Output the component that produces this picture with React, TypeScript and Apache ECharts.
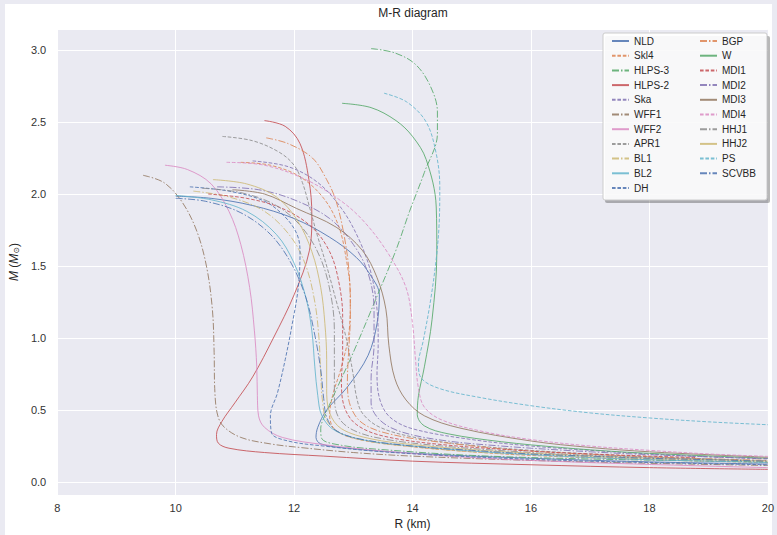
import React, { useEffect, useRef } from 'react';
import * as echarts from 'echarts';

// Series names (legend order) and seaborn "deep" palette
const NAMES = ['NLD', 'Skl4', 'HLPS-3', 'HLPS-2', 'Ska', 'WFF1', 'WFF2', 'APR1', 'BL1', 'BL2', 'DH',
  'BGP', 'W', 'MDI1', 'MDI2', 'MDI3', 'MDI4', 'HHJ1', 'HHJ2', 'PS', 'SCVBB'];
const LEGEND_COL1 = NAMES.slice(0, 11);
const LEGEND_COL2 = NAMES.slice(11);
const PALETTE = ['#4C72B0', '#DD8452', '#55A868', '#C44E52', '#8172B3', '#937860', '#DA8BC3', '#8C8C8C', '#CCB974', '#64B5CD'];
const X_TICKS = [8, 10, 12, 14, 16, 18, 20];

// [R (km), M (Msun)]
const NLD = [[10.0,1.985],[10.6,1.97],[11.3,1.92],[12.0,1.83],[12.6,1.7],[13.05,1.56],[13.3,1.43],[13.44,1.3],[13.4,1.1],[13.25,0.88],[12.9,0.66],[12.55,0.5],[12.4,0.38],[12.37,0.31],[12.45,0.265],[12.9,0.235],[14,0.2],[16,0.165],[18,0.14],[20,0.125]];
const SKL4 = [[11.1,2.22],[11.6,2.2],[12.1,2.12],[12.5,1.97],[12.75,1.78],[12.88,1.55],[12.95,1.3],[12.93,1.05],[12.8,0.8],[12.65,0.6],[12.6,0.46],[12.7,0.36],[13.1,0.295],[14,0.245],[15,0.21],[16,0.185],[18,0.155],[20,0.135]];
const HLPS3 = [[13.3,3.01],[13.7,2.98],[14.05,2.9],[14.3,2.75],[14.42,2.57],[14.42,2.42],[14.2,2.15],[13.95,1.88],[13.72,1.61],[13.39,1.28],[13.0,0.9],[12.7,0.63],[12.54,0.48],[12.45,0.37],[12.47,0.3],[12.8,0.255],[13.5,0.225],[15,0.185],[17,0.16],[20,0.14]];
const HLPS2 = [[11.5,2.51],[11.85,2.47],[12.1,2.35],[12.25,2.1],[12.3,1.85],[12.26,1.61],[12.0,1.3],[11.65,1.0],[11.3,0.73],[11.0,0.55],[10.78,0.42],[10.69,0.33],[10.72,0.27],[10.9,0.235],[11.5,0.205],[12.5,0.18],[14,0.145],[16,0.12],[18,0.1],[20,0.088]];
const SKA = [[11.3,2.23],[11.9,2.19],[12.4,2.08],[12.8,1.9],[13.1,1.68],[13.3,1.45],[13.4,1.2],[13.42,0.95],[13.4,0.75],[13.45,0.57],[13.62,0.45],[14.0,0.37],[15,0.295],[16,0.25],[17,0.22],[18,0.195],[19,0.175],[20,0.16]];
const WFF1 = [[9.45,2.13],[9.8,2.08],[10.1,1.95],[10.35,1.75],[10.52,1.5],[10.62,1.2],[10.65,0.9],[10.66,0.65],[10.7,0.48],[10.8,0.39],[11.1,0.31],[11.6,0.265],[12.1,0.24],[13,0.205],[14,0.18],[16,0.15],[18,0.13],[20,0.115]];
const WFF2 = [[9.82,2.2],[10.2,2.17],[10.6,2.07],[10.9,1.88],[11.1,1.65],[11.25,1.35],[11.33,1.05],[11.37,0.8],[11.38,0.6],[11.4,0.46],[11.5,0.38],[11.8,0.31],[12.5,0.26],[13.5,0.215],[15,0.17],[17,0.135],[20,0.1]];
const APR1 = [[10.79,2.4],[11.3,2.37],[11.75,2.29],[12.0,2.2],[12.14,2.08],[12.28,1.88],[12.38,1.73],[12.55,1.5],[12.71,1.26],[12.85,1.05],[12.93,0.9],[13.0,0.74],[13.05,0.6],[13.15,0.48],[13.45,0.38],[14.1,0.305],[15,0.255],[16,0.22],[17,0.195],[18,0.175],[19,0.16],[20,0.148]];
const BL1 = [[10.3,2.02],[10.9,1.98],[11.5,1.88],[11.95,1.7],[12.2,1.5],[12.35,1.25],[12.42,1.0],[12.45,0.75],[12.48,0.56],[12.55,0.43],[12.8,0.335],[13.3,0.28],[14,0.245],[15,0.21],[16,0.19],[17,0.175],[18,0.16],[18.8,0.152]];
const BL2 = [[10.0,1.99],[10.6,1.96],[11.2,1.88],[11.7,1.72],[12.0,1.52],[12.2,1.28],[12.3,1.05],[12.35,0.8],[12.4,0.6],[12.47,0.46],[12.68,0.36],[13.2,0.29],[14,0.25],[15,0.215],[16,0.19],[17,0.17],[18,0.155],[19,0.145],[20,0.135]];
const DH = [[10.24,2.05],[10.9,2.02],[11.5,1.95],[11.85,1.84],[12.05,1.72],[12.1,1.6],[12.07,1.35],[11.97,1.1],[11.85,0.85],[11.72,0.62],[11.6,0.46],[11.62,0.34],[11.9,0.285],[12.5,0.25],[13.5,0.21],[15,0.175],[17,0.145],[20,0.12]];
const BGP = [[11.53,2.39],[11.9,2.35],[12.31,2.25],[12.55,2.1],[12.71,1.95],[12.85,1.7],[12.93,1.45],[12.95,1.15],[12.92,0.9],[12.9,0.7],[12.95,0.53],[13.15,0.41],[13.6,0.335],[14.5,0.275],[16,0.215],[18,0.175],[20,0.15]];
const W = [[12.81,2.63],[13.3,2.6],[13.72,2.51],[14.0,2.4],[14.23,2.24],[14.4,1.91],[14.41,1.59],[14.33,1.13],[14.2,0.8],[14.1,0.6],[14.08,0.47],[14.2,0.39],[14.6,0.335],[15.5,0.28],[16.5,0.24],[17.5,0.21],[18.5,0.19],[20,0.165]];
const MDI1 = [[10.55,2.0],[11.2,1.97],[11.8,1.9],[12.3,1.77],[12.6,1.6],[12.75,1.4],[12.82,1.15],[12.82,0.9],[12.8,0.7],[12.85,0.52],[13.05,0.4],[13.5,0.32],[14.5,0.26],[16,0.215],[17,0.195],[18,0.18],[18.8,0.17]];
const MDI2 = [[10.7,2.05],[11.4,2.03],[12.0,1.96],[12.6,1.83],[13.0,1.65],[13.25,1.45],[13.35,1.2],[13.35,0.95],[13.3,0.72],[13.3,0.55],[13.45,0.43],[13.8,0.35],[14.5,0.29],[15.5,0.25],[17,0.21],[18,0.19],[19,0.175],[20,0.163]];
const MDI3 = [[10.96,2.03],[11.5,2.0],[12.04,1.9],[12.71,1.77],[13.15,1.61],[13.4,1.42],[13.55,1.2],[13.6,0.95],[13.7,0.72],[13.89,0.57],[14.2,0.46],[14.8,0.375],[16,0.285],[17,0.24],[18,0.21],[19,0.19],[20,0.172]];
const MDI4 = [[10.86,2.22],[11.5,2.2],[12.2,2.1],[12.8,1.95],[13.2,1.8],[13.6,1.58],[13.89,1.35],[14.0,1.1],[14.05,0.85],[14.1,0.65],[14.2,0.52],[14.5,0.43],[15.2,0.35],[16,0.295],[17,0.25],[18,0.22],[19,0.195],[20,0.178]];
const HHJ1 = [[10.45,2.04],[11.1,2.01],[11.7,1.92],[12.15,1.76],[12.45,1.55],[12.62,1.3],[12.68,1.05],[12.68,0.8],[12.68,0.6],[12.75,0.45],[13.0,0.36],[13.5,0.3],[14.5,0.25],[16,0.205],[17,0.185],[18,0.17],[19,0.158],[19.5,0.152]];
const HHJ2 = [[10.63,2.1],[11.2,2.07],[11.7,1.98],[12.05,1.82],[12.3,1.6],[12.45,1.35],[12.52,1.1],[12.55,0.85],[12.55,0.65],[12.6,0.48],[12.8,0.37],[13.3,0.3],[14,0.26],[15,0.225],[16,0.2],[17,0.18],[18,0.165],[19,0.155],[20,0.145]];
const PS = [[13.52,2.7],[13.9,2.64],[14.23,2.5],[14.4,2.28],[14.46,2.05],[14.45,1.8],[14.4,1.55],[14.3,1.25],[14.18,0.98],[14.1,0.82],[14.15,0.72],[14.45,0.65],[15.1,0.59],[16,0.53],[17,0.48],[18,0.445],[19,0.418],[20,0.398]];
const SCVBB = [[10.0,1.97],[10.5,1.95],[11.1,1.87],[11.6,1.72],[11.95,1.52],[12.2,1.28],[12.35,1.02],[12.45,0.78],[12.5,0.58],[12.55,0.45],[12.7,0.36],[13.1,0.3],[14,0.25],[15,0.22],[16,0.195],[17,0.18],[18,0.165],[19,0.155],[20,0.145]];

const SERIES_DATA = [NLD, SKL4, HLPS3, HLPS2, SKA, WFF1, WFF2, APR1, BL1, BL2, DH,
  BGP, W, MDI1, MDI2, MDI3, MDI4, HHJ1, HHJ2, PS, SCVBB];

const FONT = '"Liberation Sans", Arial, sans-serif';
const DASHES: any[] = ['solid', [3.6, 1.8], [7, 2, 1.5, 2]];

export default function App() {
  const ref = useRef<HTMLDivElement>(null);
  useEffect(() => {
    const chart = echarts.init(ref.current as HTMLDivElement, undefined, { renderer: 'svg' });
    const series = NAMES.map((name, i) => ({
      name,
      type: 'line',
      data: SERIES_DATA[i],
      symbol: 'none',
      showSymbol: false,
      smooth: 0.35,
      clip: true,
      lineStyle: { color: PALETTE[i % 10], width: 1, type: DASHES[i % 3], opacity: 0.85 },
      itemStyle: { color: PALETTE[i % 10] },
      z: 2,
    }));
    const legendCommon = {
      orient: 'vertical',
      top: 36,
      padding: 0,
      itemWidth: 17,
      itemHeight: 8,
      itemGap: 4.7,
      selectedMode: false,
      itemStyle: { opacity: 0, borderWidth: 0 },
      textStyle: { fontFamily: FONT, fontSize: 10, color: '#262626', lineHeight: 10, padding: [0, 0, 0, 0] },
      z: 10,
    };
    chart.setOption({
      animation: false,
      backgroundColor: '#eaeaf2',
      grid: { left: 57, right: 7, top: 29, bottom: 40, show: true, backgroundColor: '#eaeaf2', borderWidth: 0 },
      xAxis: {
        type: 'value', min: X_TICKS[0], max: X_TICKS[X_TICKS.length - 1], interval: 2,
        axisLine: { show: false }, axisTick: { show: false },
        splitLine: { show: true, lineStyle: { color: '#ffffff', width: 1 } },
        axisLabel: { fontFamily: FONT, fontSize: 11, color: '#333', margin: 7 },
        name: 'R (km)', nameLocation: 'middle', nameGap: 21,
        nameTextStyle: { fontFamily: FONT, fontSize: 12, color: '#262626' },
      },
      yAxis: {
        type: 'value', min: -0.09, max: 3.146, splitNumber: 6,
        axisLine: { show: false }, axisTick: { show: false },
        splitLine: { show: true, lineStyle: { color: '#ffffff', width: 1 } },
        axisLabel: {
          fontFamily: FONT, fontSize: 11, color: '#333', margin: 11,
          showMinLabel: false, showMaxLabel: false,
          formatter: (v: number) => v.toFixed(1),
        },
        name: '{i|M} ({i|M}{s|⊙})', nameLocation: 'middle', nameGap: 29,
        nameTextStyle: {
          fontFamily: FONT, fontSize: 12, color: '#262626',
          rich: {
            i: { fontFamily: FONT, fontSize: 12, fontStyle: 'italic', color: '#262626' },
            s: { fontFamily: 'DejaVu Sans', fontSize: 8, color: '#262626', padding: [4, 0, 0, 0] },
          },
        },
      },
      legend: [
        { ...legendCommon, left: 611, data: LEGEND_COL1 },
        { ...legendCommon, left: 699, data: LEGEND_COL2 },
      ],
      graphic: [
        { type: 'rect', z: -100, silent: true, shape: { x: 5, y: 4, width: 767, height: 531 }, style: { fill: '#ffffff' } },
        { type: 'rect', z: 8, silent: true, shape: { x: 605, y: 36, width: 165, height: 167, r: 2 }, style: { fill: 'rgba(0,0,0,0.28)' } },
        { type: 'rect', z: 9, silent: true, shape: { x: 603, y: 33, width: 164, height: 167, r: 2 }, style: { fill: 'rgba(255,255,255,0.92)', stroke: '#cccccc', lineWidth: 1 } },
        { type: 'text', z: 10, silent: true, x: 413, y: 13, style: { text: 'M-R diagram', fontFamily: FONT, fontSize: 12, fill: '#262626', textAlign: 'center', textVerticalAlign: 'middle' } },
      ],
      series,
    } as any);
    return () => chart.dispose();
  }, []);
  return (
    <div style={{ position: 'fixed', left: 0, top: 0, width: 777, height: 535, background: '#eaeaf2' }}>
      <div ref={ref} style={{ width: 777, height: 535 }} />
    </div>
  );
}
